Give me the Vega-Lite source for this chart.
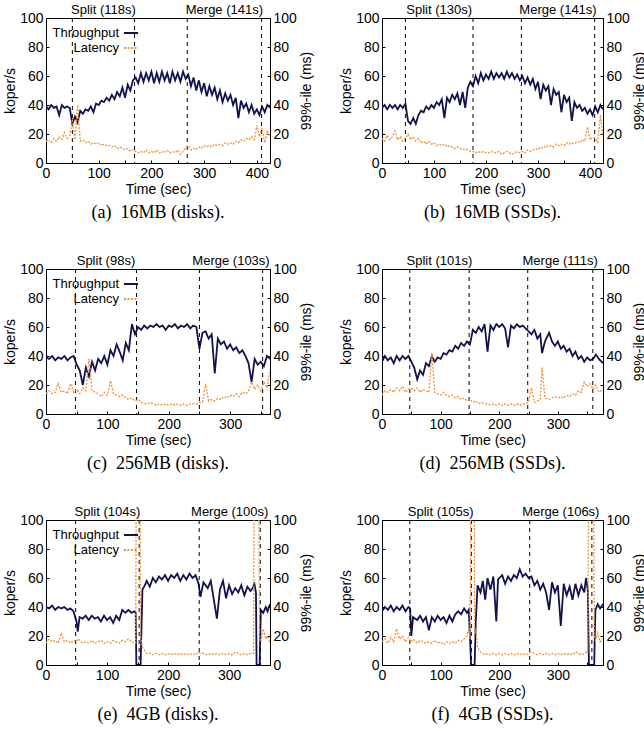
{
"$schema": "https://vega.github.io/schema/vega-lite/v6.json",
"padding": {"left": 3, "top": 3, "right": 0, "bottom": 0},
"background": "white",
"spacing": 31,
"resolve": {"scale": {"color": "independent", "strokeDash": "independent"}},
"vconcat": [
{"hconcat": [
{"width": 224, "height": 145,
 "title": "(a)\u00a0 16MB (disks).",
 "data": {"values": [
{"t":0,"thr":39,"lat":15},{"t":5,"thr":37,"lat":16},{"t":10,"thr":40,"lat":14},{"t":15,"thr":38,"lat":17},{"t":20,"thr":39,"lat":15},{"t":25,"thr":33,"lat":18},{"t":30,"thr":40,"lat":16},{"t":35,"thr":38,"lat":21},{"t":40,"thr":39,"lat":17},{"t":45,"thr":38,"lat":19},{"t":50,"thr":27,"lat":30},{"t":55,"thr":32,"lat":16},{"t":60,"thr":28,"lat":40},{"t":65,"thr":36,"lat":15},{"t":70,"thr":34,"lat":16},{"t":75,"thr":37,"lat":14},{"t":80,"thr":36,"lat":15},{"t":85,"thr":39,"lat":13},{"t":90,"thr":35,"lat":14},{"t":95,"thr":41,"lat":13},{"t":100,"thr":40,"lat":14},{"t":105,"thr":43,"lat":12},{"t":110,"thr":42,"lat":13},{"t":115,"thr":45,"lat":12},{"t":120,"thr":43,"lat":12},{"t":125,"thr":47,"lat":11},{"t":130,"thr":44,"lat":12},{"t":135,"thr":49,"lat":10},{"t":140,"thr":46,"lat":11},{"t":145,"thr":52,"lat":10},{"t":150,"thr":45,"lat":9},{"t":155,"thr":54,"lat":10},{"t":160,"thr":50,"lat":8},{"t":165,"thr":57,"lat":9},{"t":170,"thr":59,"lat":8},{"t":175,"thr":55,"lat":7},{"t":180,"thr":62,"lat":8},{"t":185,"thr":56,"lat":7},{"t":190,"thr":62,"lat":9},{"t":195,"thr":57,"lat":7},{"t":200,"thr":63,"lat":8},{"t":205,"thr":55,"lat":7},{"t":210,"thr":62,"lat":9},{"t":215,"thr":56,"lat":7},{"t":220,"thr":63,"lat":8},{"t":225,"thr":57,"lat":7},{"t":230,"thr":62,"lat":9},{"t":235,"thr":55,"lat":7},{"t":240,"thr":63,"lat":8},{"t":245,"thr":57,"lat":7},{"t":250,"thr":62,"lat":9},{"t":255,"thr":56,"lat":6},{"t":260,"thr":63,"lat":8},{"t":265,"thr":58,"lat":11},{"t":270,"thr":61,"lat":12},{"t":275,"thr":53,"lat":9},{"t":280,"thr":59,"lat":10},{"t":285,"thr":50,"lat":9},{"t":290,"thr":57,"lat":11},{"t":295,"thr":49,"lat":10},{"t":300,"thr":55,"lat":12},{"t":305,"thr":46,"lat":11},{"t":310,"thr":53,"lat":12},{"t":315,"thr":47,"lat":11},{"t":320,"thr":52,"lat":13},{"t":325,"thr":44,"lat":12},{"t":330,"thr":50,"lat":13},{"t":335,"thr":42,"lat":12},{"t":340,"thr":48,"lat":14},{"t":345,"thr":43,"lat":13},{"t":350,"thr":47,"lat":14},{"t":355,"thr":40,"lat":13},{"t":360,"thr":45,"lat":15},{"t":365,"thr":31,"lat":14},{"t":370,"thr":43,"lat":16},{"t":375,"thr":38,"lat":15},{"t":380,"thr":41,"lat":17},{"t":385,"thr":35,"lat":16},{"t":390,"thr":40,"lat":18},{"t":395,"thr":34,"lat":16},{"t":400,"thr":37,"lat":26},{"t":405,"thr":33,"lat":18},{"t":410,"thr":39,"lat":24},{"t":415,"thr":35,"lat":14},{"t":420,"thr":40,"lat":22},{"t":425,"thr":38,"lat":19}
 ]},
 "layer": [
  {"layer": [
   {"mark": {"type": "line", "strokeWidth": 1.8, "clip": true},
    "encoding": {
     "x": {"field": "t", "type": "quantitative", "scale": {"domain": [0, 425], "nice": false}, "title": "Time (sec)"},
     "y": {"field": "thr", "type": "quantitative", "scale": {"domain": [0, 100]}, "title": "koper/s"},
     "color": {"datum": "Throughput", "type": "nominal", "scale": {"domain": ["Throughput", "Latency"], "range": ["#12124f", "#f0913a"]}},
     "strokeDash": {"datum": "Throughput", "type": "nominal", "scale": {"domain": ["Throughput", "Latency"], "range": [[1, 0], [2, 1.5]]}}}},
   {"data": {"values": [{"t": 50}, {"t": 168}, {"t": 268}, {"t": 409}]},
    "mark": {"type": "rule", "color": "black", "strokeDash": [4, 4], "strokeWidth": 1},
    "encoding": {"x": {"field": "t", "type": "quantitative"}}},
   {"data": {"values": [{"t": 109, "label": "Split (118s)"}, {"t": 338.5, "label": "Merge (141s)"}]},
    "mark": {"type": "text", "baseline": "bottom", "dy": -1, "fontSize": 13, "font": "Liberation Sans", "color": "black"},
    "encoding": {"x": {"field": "t", "type": "quantitative"}, "y": {"datum": 100, "type": "quantitative"}, "text": {"field": "label"}}}
  ]},
  {"mark": {"type": "line", "strokeWidth": 1.3, "clip": true},
   "encoding": {
    "x": {"field": "t", "type": "quantitative"},
    "y": {"field": "lat", "type": "quantitative", "scale": {"domain": [0, 100]}, "axis": {"orient": "right", "title": "99%-ile (ms)", "titleAngle": 270, "titlePadding": 17}},
    "color": {"datum": "Latency", "type": "nominal", "scale": {"domain": ["Throughput", "Latency"], "range": ["#12124f", "#f0913a"]}},
    "strokeDash": {"datum": "Latency", "type": "nominal", "scale": {"domain": ["Throughput", "Latency"], "range": [[1, 0], [2, 1.5]]}}}}
 ],
 "resolve": {"scale": {"y": "independent"}}
},
{"width": 221, "height": 145,
 "title": "(b)\u00a0 16MB (SSDs).",
 "data": {"values": [
{"t":0,"thr":38,"lat":17},{"t":5,"thr":40,"lat":15},{"t":10,"thr":37,"lat":19},{"t":15,"thr":40,"lat":16},{"t":20,"thr":38,"lat":18},{"t":25,"thr":40,"lat":22},{"t":30,"thr":37,"lat":16},{"t":35,"thr":40,"lat":18},{"t":40,"thr":38,"lat":15},{"t":45,"thr":41,"lat":17},{"t":50,"thr":29,"lat":20},{"t":55,"thr":27,"lat":16},{"t":60,"thr":31,"lat":18},{"t":65,"thr":27,"lat":15},{"t":70,"thr":33,"lat":17},{"t":75,"thr":36,"lat":14},{"t":80,"thr":35,"lat":15},{"t":85,"thr":39,"lat":13},{"t":90,"thr":37,"lat":15},{"t":95,"thr":40,"lat":13},{"t":100,"thr":38,"lat":14},{"t":105,"thr":42,"lat":12},{"t":110,"thr":40,"lat":13},{"t":115,"thr":44,"lat":12},{"t":120,"thr":31,"lat":13},{"t":125,"thr":45,"lat":11},{"t":130,"thr":42,"lat":12},{"t":135,"thr":47,"lat":11},{"t":140,"thr":44,"lat":10},{"t":145,"thr":48,"lat":11},{"t":150,"thr":40,"lat":10},{"t":155,"thr":49,"lat":9},{"t":160,"thr":38,"lat":10},{"t":165,"thr":52,"lat":9},{"t":170,"thr":56,"lat":8},{"t":175,"thr":53,"lat":8},{"t":180,"thr":60,"lat":7},{"t":185,"thr":55,"lat":8},{"t":190,"thr":62,"lat":7},{"t":195,"thr":57,"lat":8},{"t":200,"thr":61,"lat":7},{"t":205,"thr":58,"lat":7},{"t":210,"thr":63,"lat":8},{"t":215,"thr":58,"lat":7},{"t":220,"thr":62,"lat":7},{"t":225,"thr":59,"lat":8},{"t":230,"thr":62,"lat":6},{"t":235,"thr":58,"lat":7},{"t":240,"thr":63,"lat":8},{"t":245,"thr":59,"lat":7},{"t":250,"thr":62,"lat":6},{"t":255,"thr":58,"lat":7},{"t":260,"thr":61,"lat":8},{"t":265,"thr":57,"lat":7},{"t":270,"thr":60,"lat":8},{"t":275,"thr":55,"lat":7},{"t":280,"thr":59,"lat":9},{"t":285,"thr":54,"lat":8},{"t":290,"thr":58,"lat":9},{"t":295,"thr":51,"lat":10},{"t":300,"thr":56,"lat":9},{"t":305,"thr":44,"lat":11},{"t":310,"thr":54,"lat":10},{"t":315,"thr":50,"lat":12},{"t":320,"thr":53,"lat":11},{"t":325,"thr":40,"lat":12},{"t":330,"thr":51,"lat":11},{"t":335,"thr":47,"lat":13},{"t":340,"thr":49,"lat":12},{"t":345,"thr":35,"lat":13},{"t":350,"thr":47,"lat":12},{"t":355,"thr":42,"lat":14},{"t":360,"thr":45,"lat":13},{"t":365,"thr":29,"lat":14},{"t":370,"thr":42,"lat":13},{"t":375,"thr":38,"lat":15},{"t":380,"thr":40,"lat":14},{"t":385,"thr":36,"lat":16},{"t":390,"thr":38,"lat":15},{"t":395,"thr":34,"lat":25},{"t":400,"thr":37,"lat":16},{"t":405,"thr":33,"lat":18},{"t":410,"thr":39,"lat":17},{"t":415,"thr":35,"lat":14},{"t":420,"thr":40,"lat":33},{"t":425,"thr":37,"lat":18}
 ]},
 "layer": [
  {"layer": [
   {"mark": {"type": "line", "strokeWidth": 1.8, "clip": true},
    "encoding": {
     "x": {"field": "t", "type": "quantitative", "scale": {"domain": [0, 425], "nice": false}, "title": "Time (sec)"},
     "y": {"field": "thr", "type": "quantitative", "scale": {"domain": [0, 100]}, "title": "koper/s"},
     "color": {"datum": "Throughput", "type": "nominal", "scale": {"domain": ["Throughput", "Latency"], "range": ["#12124f", "#f0913a"]}, "legend": null},
     "strokeDash": {"datum": "Throughput", "type": "nominal", "scale": {"domain": ["Throughput", "Latency"], "range": [[1, 0], [2, 1.5]]}, "legend": null}}},
   {"data": {"values": [{"t": 45}, {"t": 175}, {"t": 268}, {"t": 409}]},
    "mark": {"type": "rule", "color": "black", "strokeDash": [4, 4], "strokeWidth": 1},
    "encoding": {"x": {"field": "t", "type": "quantitative"}}},
   {"data": {"values": [{"t": 110, "label": "Split (130s)"}, {"t": 338.5, "label": "Merge (141s)"}]},
    "mark": {"type": "text", "baseline": "bottom", "dy": -1, "fontSize": 13, "font": "Liberation Sans", "color": "black"},
    "encoding": {"x": {"field": "t", "type": "quantitative"}, "y": {"datum": 100, "type": "quantitative"}, "text": {"field": "label"}}}
  ]},
  {"mark": {"type": "line", "strokeWidth": 1.3, "clip": true},
   "encoding": {
    "x": {"field": "t", "type": "quantitative"},
    "y": {"field": "lat", "type": "quantitative", "scale": {"domain": [0, 100]}, "axis": {"orient": "right", "title": "99%-ile (ms)", "titleAngle": 270, "titlePadding": 17}},
    "color": {"datum": "Latency", "type": "nominal", "scale": {"domain": ["Throughput", "Latency"], "range": ["#12124f", "#f0913a"]}, "legend": null},
    "strokeDash": {"datum": "Latency", "type": "nominal", "scale": {"domain": ["Throughput", "Latency"], "range": [[1, 0], [2, 1.5]]}, "legend": null}}}
 ],
 "resolve": {"scale": {"y": "independent"}}
}
], "resolve": {"scale": {"color": "independent", "strokeDash": "independent"}}},
{"hconcat": [
{"width": 224, "height": 145,
 "title": "(c)\u00a0 256MB (disks).",
 "data": {"values": [
{"t":0,"thr":39,"lat":14},{"t":5,"thr":38,"lat":16},{"t":10,"thr":40,"lat":14},{"t":15,"thr":37,"lat":15},{"t":20,"thr":39,"lat":21},{"t":25,"thr":38,"lat":15},{"t":30,"thr":40,"lat":16},{"t":35,"thr":37,"lat":14},{"t":40,"thr":39,"lat":21},{"t":45,"thr":40,"lat":15},{"t":50,"thr":34,"lat":17},{"t":55,"thr":30,"lat":14},{"t":60,"thr":20,"lat":18},{"t":65,"thr":32,"lat":16},{"t":70,"thr":26,"lat":38},{"t":75,"thr":36,"lat":16},{"t":80,"thr":30,"lat":15},{"t":85,"thr":38,"lat":14},{"t":90,"thr":35,"lat":12},{"t":95,"thr":40,"lat":15},{"t":100,"thr":34,"lat":13},{"t":105,"thr":44,"lat":23},{"t":110,"thr":40,"lat":14},{"t":115,"thr":48,"lat":13},{"t":120,"thr":43,"lat":12},{"t":125,"thr":37,"lat":13},{"t":130,"thr":49,"lat":11},{"t":135,"thr":44,"lat":10},{"t":140,"thr":62,"lat":11},{"t":145,"thr":55,"lat":9},{"t":150,"thr":60,"lat":10},{"t":155,"thr":58,"lat":8},{"t":160,"thr":61,"lat":7},{"t":165,"thr":59,"lat":7},{"t":170,"thr":61,"lat":8},{"t":175,"thr":60,"lat":7},{"t":180,"thr":62,"lat":6},{"t":185,"thr":60,"lat":7},{"t":190,"thr":61,"lat":6},{"t":195,"thr":58,"lat":7},{"t":200,"thr":61,"lat":6},{"t":205,"thr":60,"lat":7},{"t":210,"thr":62,"lat":6},{"t":215,"thr":59,"lat":7},{"t":220,"thr":61,"lat":6},{"t":225,"thr":60,"lat":7},{"t":230,"thr":62,"lat":6},{"t":235,"thr":59,"lat":7},{"t":240,"thr":61,"lat":7},{"t":245,"thr":60,"lat":7},{"t":250,"thr":45,"lat":8},{"t":255,"thr":56,"lat":8},{"t":260,"thr":57,"lat":21},{"t":265,"thr":52,"lat":9},{"t":270,"thr":55,"lat":10},{"t":275,"thr":28,"lat":9},{"t":280,"thr":52,"lat":11},{"t":285,"thr":48,"lat":10},{"t":290,"thr":50,"lat":12},{"t":295,"thr":45,"lat":11},{"t":300,"thr":48,"lat":13},{"t":305,"thr":44,"lat":12},{"t":310,"thr":46,"lat":14},{"t":315,"thr":42,"lat":12},{"t":320,"thr":44,"lat":15},{"t":325,"thr":40,"lat":14},{"t":330,"thr":35,"lat":16},{"t":335,"thr":22,"lat":22},{"t":340,"thr":38,"lat":17},{"t":345,"thr":34,"lat":20},{"t":350,"thr":36,"lat":16},{"t":355,"thr":33,"lat":22},{"t":360,"thr":40,"lat":18},{"t":365,"thr":38,"lat":30}
 ]},
 "layer": [
  {"layer": [
   {"mark": {"type": "line", "strokeWidth": 1.8, "clip": true},
    "encoding": {
     "x": {"field": "t", "type": "quantitative", "scale": {"domain": [0, 365], "nice": false}, "title": "Time (sec)"},
     "y": {"field": "thr", "type": "quantitative", "scale": {"domain": [0, 100]}, "title": "koper/s"},
     "color": {"datum": "Throughput", "type": "nominal", "scale": {"domain": ["Throughput", "Latency"], "range": ["#12124f", "#f0913a"]}},
     "strokeDash": {"datum": "Throughput", "type": "nominal", "scale": {"domain": ["Throughput", "Latency"], "range": [[1, 0], [2, 1.5]]}}}},
   {"data": {"values": [{"t": 48}, {"t": 147.5}, {"t": 250}, {"t": 353}]},
    "mark": {"type": "rule", "color": "black", "strokeDash": [4, 4], "strokeWidth": 1},
    "encoding": {"x": {"field": "t", "type": "quantitative"}}},
   {"data": {"values": [{"t": 97.75, "label": "Split (98s)"}, {"t": 301.5, "label": "Merge (103s)"}]},
    "mark": {"type": "text", "baseline": "bottom", "dy": -1, "fontSize": 13, "font": "Liberation Sans", "color": "black"},
    "encoding": {"x": {"field": "t", "type": "quantitative"}, "y": {"datum": 100, "type": "quantitative"}, "text": {"field": "label"}}}
  ]},
  {"mark": {"type": "line", "strokeWidth": 1.3, "clip": true},
   "encoding": {
    "x": {"field": "t", "type": "quantitative"},
    "y": {"field": "lat", "type": "quantitative", "scale": {"domain": [0, 100]}, "axis": {"orient": "right", "title": "99%-ile (ms)", "titleAngle": 270, "titlePadding": 17}},
    "color": {"datum": "Latency", "type": "nominal", "scale": {"domain": ["Throughput", "Latency"], "range": ["#12124f", "#f0913a"]}},
    "strokeDash": {"datum": "Latency", "type": "nominal", "scale": {"domain": ["Throughput", "Latency"], "range": [[1, 0], [2, 1.5]]}}}}
 ],
 "resolve": {"scale": {"y": "independent"}}
},
{"width": 221, "height": 145,
 "title": "(d)\u00a0 256MB (SSDs).",
 "data": {"values": [
{"t":0,"thr":36,"lat":13},{"t":5,"thr":40,"lat":16},{"t":10,"thr":37,"lat":15},{"t":15,"thr":39,"lat":17},{"t":20,"thr":35,"lat":15},{"t":25,"thr":40,"lat":18},{"t":30,"thr":37,"lat":16},{"t":35,"thr":40,"lat":19},{"t":40,"thr":38,"lat":15},{"t":45,"thr":40,"lat":17},{"t":50,"thr":36,"lat":18},{"t":55,"thr":32,"lat":16},{"t":60,"thr":24,"lat":18},{"t":65,"thr":30,"lat":15},{"t":70,"thr":27,"lat":17},{"t":75,"thr":35,"lat":16},{"t":80,"thr":33,"lat":15},{"t":85,"thr":40,"lat":42},{"t":90,"thr":36,"lat":15},{"t":95,"thr":39,"lat":14},{"t":100,"thr":38,"lat":13},{"t":105,"thr":42,"lat":15},{"t":110,"thr":41,"lat":13},{"t":115,"thr":44,"lat":12},{"t":120,"thr":43,"lat":13},{"t":125,"thr":47,"lat":11},{"t":130,"thr":45,"lat":12},{"t":135,"thr":49,"lat":10},{"t":140,"thr":47,"lat":11},{"t":145,"thr":50,"lat":9},{"t":150,"thr":48,"lat":10},{"t":155,"thr":58,"lat":8},{"t":160,"thr":56,"lat":9},{"t":165,"thr":60,"lat":7},{"t":170,"thr":57,"lat":8},{"t":175,"thr":62,"lat":7},{"t":180,"thr":43,"lat":7},{"t":185,"thr":61,"lat":6},{"t":190,"thr":58,"lat":7},{"t":195,"thr":62,"lat":6},{"t":200,"thr":60,"lat":7},{"t":205,"thr":62,"lat":6},{"t":210,"thr":59,"lat":7},{"t":215,"thr":46,"lat":6},{"t":220,"thr":61,"lat":7},{"t":225,"thr":59,"lat":6},{"t":230,"thr":62,"lat":7},{"t":235,"thr":60,"lat":6},{"t":240,"thr":61,"lat":7},{"t":245,"thr":59,"lat":7},{"t":250,"thr":57,"lat":8},{"t":255,"thr":55,"lat":18},{"t":260,"thr":58,"lat":8},{"t":265,"thr":52,"lat":9},{"t":270,"thr":55,"lat":10},{"t":273,"thr":42,"lat":32},{"t":278,"thr":50,"lat":11},{"t":285,"thr":56,"lat":10},{"t":290,"thr":50,"lat":11},{"t":295,"thr":47,"lat":12},{"t":300,"thr":50,"lat":11},{"t":305,"thr":45,"lat":12},{"t":310,"thr":47,"lat":11},{"t":315,"thr":43,"lat":13},{"t":320,"thr":45,"lat":12},{"t":325,"thr":40,"lat":14},{"t":330,"thr":43,"lat":13},{"t":335,"thr":38,"lat":16},{"t":340,"thr":40,"lat":15},{"t":345,"thr":36,"lat":22},{"t":350,"thr":39,"lat":19},{"t":355,"thr":37,"lat":21},{"t":360,"thr":38,"lat":17},{"t":365,"thr":41,"lat":20},{"t":370,"thr":38,"lat":15},{"t":377,"thr":35,"lat":17}
 ]},
 "layer": [
  {"layer": [
   {"mark": {"type": "line", "strokeWidth": 1.8, "clip": true},
    "encoding": {
     "x": {"field": "t", "type": "quantitative", "scale": {"domain": [0, 377], "nice": false}, "title": "Time (sec)"},
     "y": {"field": "thr", "type": "quantitative", "scale": {"domain": [0, 100]}, "title": "koper/s"},
     "color": {"datum": "Throughput", "type": "nominal", "scale": {"domain": ["Throughput", "Latency"], "range": ["#12124f", "#f0913a"]}, "legend": null},
     "strokeDash": {"datum": "Throughput", "type": "nominal", "scale": {"domain": ["Throughput", "Latency"], "range": [[1, 0], [2, 1.5]]}, "legend": null}}},
   {"data": {"values": [{"t": 47.4}, {"t": 148.6}, {"t": 248.6}, {"t": 359.6}]},
    "mark": {"type": "rule", "color": "black", "strokeDash": [4, 4], "strokeWidth": 1},
    "encoding": {"x": {"field": "t", "type": "quantitative"}}},
   {"data": {"values": [{"t": 98, "label": "Split (101s)"}, {"t": 304, "label": "Merge (111s)"}]},
    "mark": {"type": "text", "baseline": "bottom", "dy": -1, "fontSize": 13, "font": "Liberation Sans", "color": "black"},
    "encoding": {"x": {"field": "t", "type": "quantitative"}, "y": {"datum": 100, "type": "quantitative"}, "text": {"field": "label"}}}
  ]},
  {"mark": {"type": "line", "strokeWidth": 1.3, "clip": true},
   "encoding": {
    "x": {"field": "t", "type": "quantitative"},
    "y": {"field": "lat", "type": "quantitative", "scale": {"domain": [0, 100]}, "axis": {"orient": "right", "title": "99%-ile (ms)", "titleAngle": 270, "titlePadding": 17}},
    "color": {"datum": "Latency", "type": "nominal", "scale": {"domain": ["Throughput", "Latency"], "range": ["#12124f", "#f0913a"]}, "legend": null},
    "strokeDash": {"datum": "Latency", "type": "nominal", "scale": {"domain": ["Throughput", "Latency"], "range": [[1, 0], [2, 1.5]]}, "legend": null}}}
 ],
 "resolve": {"scale": {"y": "independent"}}
}
], "resolve": {"scale": {"color": "independent", "strokeDash": "independent"}}},
{"hconcat": [
{"width": 224, "height": 145,
 "title": "(e)\u00a0 4GB (disks).",
 "data": {"values": [
{"t":0,"thr":40,"lat":15},{"t":5,"thr":39,"lat":18},{"t":10,"thr":41,"lat":16},{"t":15,"thr":38,"lat":17},{"t":20,"thr":40,"lat":15},{"t":25,"thr":39,"lat":22},{"t":30,"thr":40,"lat":16},{"t":35,"thr":38,"lat":17},{"t":40,"thr":39,"lat":15},{"t":45,"thr":37,"lat":17},{"t":50,"thr":30,"lat":16},{"t":52,"thr":23,"lat":18},{"t":55,"thr":33,"lat":17},{"t":60,"thr":32,"lat":15},{"t":65,"thr":34,"lat":16},{"t":70,"thr":31,"lat":15},{"t":75,"thr":34,"lat":17},{"t":80,"thr":32,"lat":15},{"t":85,"thr":33,"lat":16},{"t":90,"thr":30,"lat":17},{"t":95,"thr":34,"lat":15},{"t":100,"thr":31,"lat":16},{"t":105,"thr":33,"lat":15},{"t":110,"thr":29,"lat":17},{"t":115,"thr":34,"lat":16},{"t":120,"thr":31,"lat":15},{"t":125,"thr":38,"lat":17},{"t":130,"thr":36,"lat":16},{"t":135,"thr":38,"lat":18},{"t":140,"thr":36,"lat":16},{"t":145,"thr":37,"lat":15},{"t":147,"thr":36,"lat":15},{"t":148,"thr":0,"lat":150},{"t":154,"thr":0,"lat":150},{"t":155,"thr":0,"lat":20},{"t":158,"thr":52,"lat":12},{"t":162,"thr":55,"lat":10},{"t":165,"thr":58,"lat":8},{"t":170,"thr":54,"lat":8},{"t":175,"thr":60,"lat":7},{"t":180,"thr":57,"lat":8},{"t":185,"thr":61,"lat":7},{"t":190,"thr":59,"lat":8},{"t":195,"thr":62,"lat":7},{"t":200,"thr":58,"lat":8},{"t":205,"thr":62,"lat":7},{"t":210,"thr":60,"lat":8},{"t":215,"thr":63,"lat":7},{"t":220,"thr":58,"lat":8},{"t":225,"thr":62,"lat":7},{"t":230,"thr":59,"lat":8},{"t":235,"thr":63,"lat":7},{"t":240,"thr":60,"lat":8},{"t":245,"thr":62,"lat":7},{"t":250,"thr":56,"lat":9},{"t":253,"thr":47,"lat":8},{"t":258,"thr":57,"lat":8},{"t":265,"thr":53,"lat":7},{"t":270,"thr":58,"lat":8},{"t":275,"thr":45,"lat":7},{"t":280,"thr":32,"lat":8},{"t":285,"thr":52,"lat":7},{"t":290,"thr":58,"lat":8},{"t":295,"thr":46,"lat":7},{"t":300,"thr":55,"lat":8},{"t":305,"thr":49,"lat":7},{"t":310,"thr":53,"lat":9},{"t":315,"thr":50,"lat":8},{"t":320,"thr":55,"lat":7},{"t":325,"thr":48,"lat":8},{"t":330,"thr":54,"lat":7},{"t":335,"thr":51,"lat":8},{"t":340,"thr":54,"lat":8},{"t":341,"thr":57,"lat":150},{"t":344,"thr":50,"lat":150},{"t":345,"thr":0,"lat":150},{"t":348,"thr":0,"lat":150},{"t":350,"thr":0,"lat":18},{"t":352,"thr":38,"lat":16},{"t":356,"thr":36,"lat":25},{"t":360,"thr":40,"lat":18},{"t":363,"thr":37,"lat":20},{"t":367,"thr":42,"lat":15}
 ]},
 "layer": [
  {"layer": [
   {"mark": {"type": "line", "strokeWidth": 1.8, "clip": true},
    "encoding": {
     "x": {"field": "t", "type": "quantitative", "scale": {"domain": [0, 367], "nice": false}, "title": "Time (sec)"},
     "y": {"field": "thr", "type": "quantitative", "scale": {"domain": [0, 100]}, "title": "koper/s"},
     "color": {"datum": "Throughput", "type": "nominal", "scale": {"domain": ["Throughput", "Latency"], "range": ["#12124f", "#f0913a"]}},
     "strokeDash": {"datum": "Throughput", "type": "nominal", "scale": {"domain": ["Throughput", "Latency"], "range": [[1, 0], [2, 1.5]]}}}},
   {"data": {"values": [{"t": 48.6}, {"t": 152.6}, {"t": 251}, {"t": 351}]},
    "mark": {"type": "rule", "color": "black", "strokeDash": [4, 4], "strokeWidth": 1},
    "encoding": {"x": {"field": "t", "type": "quantitative"}}},
   {"data": {"values": [{"t": 100.6, "label": "Split (104s)"}, {"t": 301, "label": "Merge (100s)"}]},
    "mark": {"type": "text", "baseline": "bottom", "dy": -1, "fontSize": 13, "font": "Liberation Sans", "color": "black"},
    "encoding": {"x": {"field": "t", "type": "quantitative"}, "y": {"datum": 100, "type": "quantitative"}, "text": {"field": "label"}}}
  ]},
  {"mark": {"type": "line", "strokeWidth": 1.3, "clip": true},
   "encoding": {
    "x": {"field": "t", "type": "quantitative"},
    "y": {"field": "lat", "type": "quantitative", "scale": {"domain": [0, 100]}, "axis": {"orient": "right", "title": "99%-ile (ms)", "titleAngle": 270, "titlePadding": 17}},
    "color": {"datum": "Latency", "type": "nominal", "scale": {"domain": ["Throughput", "Latency"], "range": ["#12124f", "#f0913a"]}},
    "strokeDash": {"datum": "Latency", "type": "nominal", "scale": {"domain": ["Throughput", "Latency"], "range": [[1, 0], [2, 1.5]]}}}}
 ],
 "resolve": {"scale": {"y": "independent"}}
},
{"width": 221, "height": 145,
 "title": "(f)\u00a0 4GB (SSDs).",
 "data": {"values": [
{"t":0,"thr":37,"lat":16},{"t":5,"thr":40,"lat":18},{"t":10,"thr":38,"lat":15},{"t":15,"thr":41,"lat":19},{"t":20,"thr":37,"lat":16},{"t":25,"thr":40,"lat":25},{"t":30,"thr":38,"lat":18},{"t":35,"thr":41,"lat":20},{"t":40,"thr":37,"lat":16},{"t":45,"thr":40,"lat":19},{"t":48,"thr":39,"lat":17},{"t":50,"thr":20,"lat":16},{"t":53,"thr":33,"lat":18},{"t":60,"thr":31,"lat":15},{"t":65,"thr":34,"lat":17},{"t":70,"thr":30,"lat":16},{"t":75,"thr":33,"lat":15},{"t":80,"thr":24,"lat":16},{"t":85,"thr":33,"lat":15},{"t":90,"thr":30,"lat":17},{"t":95,"thr":34,"lat":15},{"t":100,"thr":31,"lat":16},{"t":105,"thr":33,"lat":14},{"t":110,"thr":29,"lat":16},{"t":115,"thr":34,"lat":15},{"t":120,"thr":30,"lat":16},{"t":125,"thr":35,"lat":15},{"t":130,"thr":37,"lat":17},{"t":135,"thr":35,"lat":16},{"t":140,"thr":39,"lat":18},{"t":145,"thr":36,"lat":20},{"t":148,"thr":38,"lat":25},{"t":150,"thr":20,"lat":18},{"t":152,"thr":0,"lat":150},{"t":157,"thr":0,"lat":150},{"t":158,"thr":0,"lat":22},{"t":160,"thr":30,"lat":25},{"t":163,"thr":55,"lat":12},{"t":168,"thr":50,"lat":9},{"t":172,"thr":58,"lat":8},{"t":176,"thr":45,"lat":7},{"t":180,"thr":60,"lat":8},{"t":185,"thr":52,"lat":7},{"t":190,"thr":61,"lat":8},{"t":195,"thr":30,"lat":7},{"t":198,"thr":59,"lat":8},{"t":205,"thr":62,"lat":7},{"t":210,"thr":56,"lat":8},{"t":215,"thr":61,"lat":7},{"t":220,"thr":58,"lat":8},{"t":225,"thr":62,"lat":7},{"t":230,"thr":60,"lat":8},{"t":235,"thr":66,"lat":7},{"t":240,"thr":61,"lat":8},{"t":245,"thr":63,"lat":7},{"t":250,"thr":60,"lat":8},{"t":255,"thr":61,"lat":9},{"t":260,"thr":55,"lat":8},{"t":265,"thr":58,"lat":7},{"t":270,"thr":52,"lat":8},{"t":275,"thr":56,"lat":7},{"t":280,"thr":50,"lat":8},{"t":285,"thr":38,"lat":7},{"t":290,"thr":57,"lat":8},{"t":295,"thr":50,"lat":7},{"t":300,"thr":55,"lat":8},{"t":305,"thr":27,"lat":7},{"t":310,"thr":56,"lat":8},{"t":315,"thr":48,"lat":7},{"t":320,"thr":54,"lat":8},{"t":325,"thr":45,"lat":7},{"t":330,"thr":56,"lat":9},{"t":335,"thr":48,"lat":8},{"t":340,"thr":55,"lat":7},{"t":345,"thr":50,"lat":8},{"t":348,"thr":60,"lat":9},{"t":351,"thr":52,"lat":8},{"t":353,"thr":0,"lat":150},{"t":361,"thr":0,"lat":150},{"t":362,"thr":0,"lat":20},{"t":364,"thr":38,"lat":17},{"t":368,"thr":42,"lat":22},{"t":372,"thr":39,"lat":16},{"t":377,"thr":42,"lat":18}
 ]},
 "layer": [
  {"layer": [
   {"mark": {"type": "line", "strokeWidth": 1.8, "clip": true},
    "encoding": {
     "x": {"field": "t", "type": "quantitative", "scale": {"domain": [0, 377], "nice": false}, "title": "Time (sec)"},
     "y": {"field": "thr", "type": "quantitative", "scale": {"domain": [0, 100]}, "title": "koper/s"},
     "color": {"datum": "Throughput", "type": "nominal", "scale": {"domain": ["Throughput", "Latency"], "range": ["#12124f", "#f0913a"]}, "legend": null},
     "strokeDash": {"datum": "Throughput", "type": "nominal", "scale": {"domain": ["Throughput", "Latency"], "range": [[1, 0], [2, 1.5]]}, "legend": null}}},
   {"data": {"values": [{"t": 47.4}, {"t": 152.4}, {"t": 252}, {"t": 358}]},
    "mark": {"type": "rule", "color": "black", "strokeDash": [4, 4], "strokeWidth": 1},
    "encoding": {"x": {"field": "t", "type": "quantitative"}}},
   {"data": {"values": [{"t": 100, "label": "Split (105s)"}, {"t": 305, "label": "Merge (106s)"}]},
    "mark": {"type": "text", "baseline": "bottom", "dy": -1, "fontSize": 13, "font": "Liberation Sans", "color": "black"},
    "encoding": {"x": {"field": "t", "type": "quantitative"}, "y": {"datum": 100, "type": "quantitative"}, "text": {"field": "label"}}}
  ]},
  {"mark": {"type": "line", "strokeWidth": 1.3, "clip": true},
   "encoding": {
    "x": {"field": "t", "type": "quantitative"},
    "y": {"field": "lat", "type": "quantitative", "scale": {"domain": [0, 100]}, "axis": {"orient": "right", "title": "99%-ile (ms)", "titleAngle": 270, "titlePadding": 17}},
    "color": {"datum": "Latency", "type": "nominal", "scale": {"domain": ["Throughput", "Latency"], "range": ["#12124f", "#f0913a"]}, "legend": null},
    "strokeDash": {"datum": "Latency", "type": "nominal", "scale": {"domain": ["Throughput", "Latency"], "range": [[1, 0], [2, 1.5]]}, "legend": null}}}
 ],
 "resolve": {"scale": {"y": "independent"}}
}
], "resolve": {"scale": {"color": "independent", "strokeDash": "independent"}}}
],
"config": {
 "concat": {"spacing": 25},
 "view": {"stroke": "black", "strokeWidth": 1},
 "axis": {"grid": false, "labelFont": "Liberation Sans", "labelFontSize": 14, "titleFont": "Liberation Sans", "titleFontSize": 14, "titleFontWeight": "normal", "labelColor": "black", "titleColor": "black", "domainColor": "black", "tickColor": "black", "tickSize": -3, "labelPadding": 6, "titlePadding": 2},
 "axisX": {"tickCount": 8, "labelFlush": false, "labelExpr": "datum.value % 100 === 0 ? datum.label : ''"},
 "axisY": {"tickCount": 5},
 "title": {"orient": "bottom", "font": "Liberation Serif", "fontSize": 18, "fontWeight": "normal", "color": "black", "offset": 8},
 "legend": {"orient": "none", "legendX": 77, "legendY": 7, "title": null, "symbolType": "stroke", "symbolSize": 200, "symbolStrokeWidth": 1.8, "labelFont": "Liberation Sans", "labelFontSize": 13, "labelColor": "black", "labelAlign": "right", "labelOffset": -20, "rowPadding": -3, "padding": 0}
}
}
